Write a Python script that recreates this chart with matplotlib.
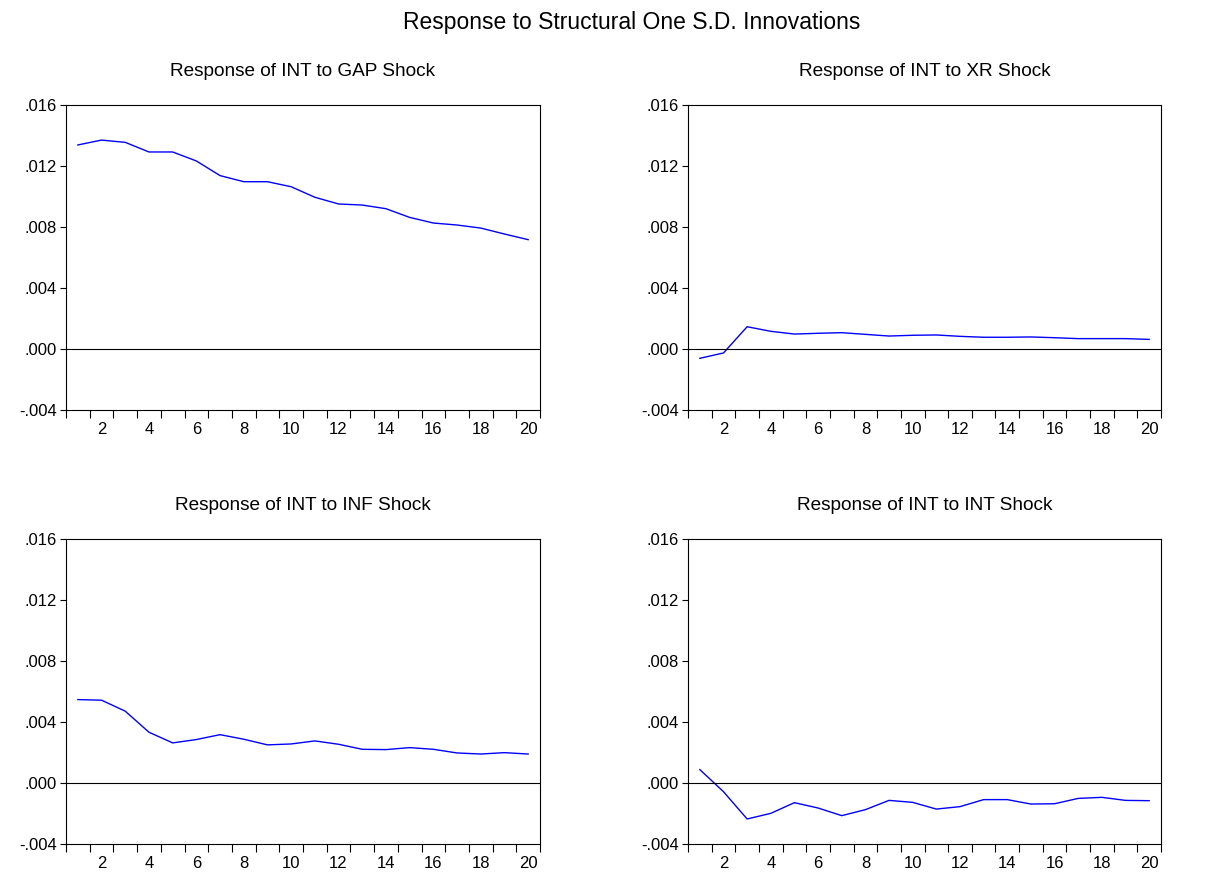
import matplotlib
matplotlib.use("Agg")
import matplotlib.pyplot as plt
import numpy as np

plt.rcParams['font.family'] = ['Liberation Sans', 'DejaVu Sans']

periods = list(range(1, 21))

gap_shock = [0.01338, 0.01370, 0.01355, 0.01292, 0.01292, 0.01233, 0.01137, 0.01097,
             0.01097, 0.01064, 0.00995, 0.00951, 0.00944, 0.00920, 0.00863, 0.00826,
             0.00813, 0.00793, 0.00754, 0.00717]
xr_shock = [-0.00061, -0.00026, 0.00146, 0.00116, 0.00098, 0.00103, 0.00107, 0.00096,
            0.00085, 0.00090, 0.00092, 0.00083, 0.00077, 0.00077, 0.00079, 0.00074,
            0.00068, 0.00068, 0.00068, 0.00063]
inf_shock = [0.00547, 0.00543, 0.00471, 0.00333, 0.00263, 0.00285, 0.00317, 0.00287,
             0.00250, 0.00256, 0.00276, 0.00254, 0.00221, 0.00219, 0.00232, 0.00221,
             0.00197, 0.00190, 0.00199, 0.00190]
int_shock = [0.00088, -0.00057, -0.00236, -0.00199, -0.00129, -0.00164, -0.00214, -0.00175,
             -0.00114, -0.00127, -0.00171, -0.00155, -0.00109, -0.00109, -0.00138, -0.00136,
             -0.00101, -0.00094, -0.00114, -0.00116]

titles = ["Response of INT to GAP Shock", "Response of INT to XR Shock",
          "Response of INT to INF Shock", "Response of INT to INT Shock"]
series = [gap_shock, xr_shock, inf_shock, int_shock]

y_ticks = [-0.004, 0.000, 0.004, 0.008, 0.012, 0.016]
y_tick_labels = ["-.004", ".000", ".004", ".008", ".012", ".016"]
x_label_pos = [2, 4, 6, 8, 10, 12, 14, 16, 18, 20]

W, H = 1205, 874
fig = plt.figure(figsize=(W / 100, H / 100), dpi=100)

# axes boxes in pixel coords: (left, top, right, bottom)
boxes = [(66, 105, 540, 410), (688, 105, 1161, 410),
         (66, 539, 540, 844), (688, 539, 1161, 844)]

fig.text(632 / W, 1 - 22 / H, "Response to Structural One S.D. Innovations",
         ha='center', va='center', fontsize=16.5)

for (l, t, r, b), title, vals in zip(boxes, titles, series):
    ax = fig.add_axes([l / W, 1 - b / H, (r - l) / W, (b - t) / H])
    ax.plot(periods, vals, color='#0000ff', lw=1.0)
    ax.axhline(0, color='black', lw=0.8)
    ax.set_xlim(0.5, 20.5)
    ax.set_ylim(-0.004, 0.016)
    ax.set_yticks(y_ticks)
    ax.set_yticklabels(y_tick_labels)
    ax.set_xticks(np.arange(0.5, 21, 1.0))
    ax.set_xticklabels([])
    ax.set_xticks(x_label_pos, minor=True)
    ax.set_xticklabels([str(v) for v in x_label_pos], minor=True)
    ax.tick_params(axis='x', which='major', direction='out', length=5.5, width=0.8)
    ax.tick_params(axis='x', which='minor', length=0, labelsize=12, pad=8.5)
    ax.tick_params(axis='y', direction='out', length=4.5, width=0.8, labelsize=12, pad=2)
    for s in ax.spines.values():
        s.set_linewidth(0.8)
    ax.set_title(title, fontsize=13.7, pad=21)

fig.savefig("out.png", dpi=100)
